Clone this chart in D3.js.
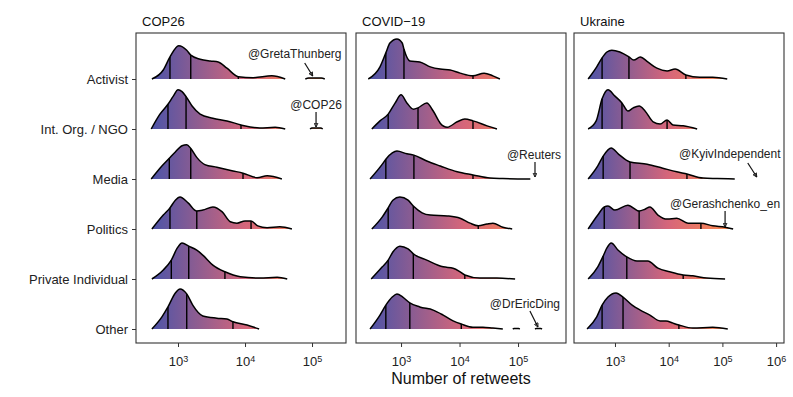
<!DOCTYPE html>
<meta charset="utf-8">
<style>
    body { margin: 0; background: #fff; }
    text { font-family: "Liberation Sans", Arial, Helvetica, sans-serif; }
    .axis .domain { display: none; }
</style>
<svg width="793" height="397"></svg>
<script src="https://cdnjs.cloudflare.com/ajax/libs/d3/7.8.5/d3.min.js"></script>
<script>
    // data: [log10(retweets), density]
    var panels = ["COP26", "COVID\u221219", "Ukraine"];
    var categories = ["Activist", "Int. Org. / NGO", "Media", "Politics", "Private Individual", "Other"];

    var cop26Ridges = [
        [[2.61,0],[2.78,0.2],[2.88,0.49],[3.01,0.74],[3.13,0.64],[3.19,0.53],[3.33,0.44],[3.48,0.4],[3.60,0.38],[3.73,0.24],[3.90,0.05],[4.12,0.03],[4.40,0.07],[4.60,0]],
        [[2.60,0],[2.73,0.33],[2.85,0.55],[2.93,0.73],[3.0,0.87],[3.06,0.83],[3.12,0.72],[3.21,0.51],[3.33,0.33],[3.52,0.24],[3.73,0.18],[3.94,0.09],[4.22,0.02],[4.45,0.04],[4.60,0]],
        [[2.60,0],[2.73,0.24],[2.87,0.46],[2.96,0.6],[3.06,0.74],[3.13,0.76],[3.19,0.68],[3.28,0.48],[3.40,0.32],[3.58,0.26],[3.82,0.18],[3.97,0.13],[4.18,0.03],[4.33,0.07],[4.55,0]],
        [[2.61,0],[2.78,0.31],[2.88,0.47],[2.96,0.64],[3.03,0.71],[3.15,0.58],[3.28,0.40],[3.37,0.42],[3.52,0.49],[3.66,0.38],[3.78,0.16],[3.88,0.13],[4.0,0.18],[4.09,0.18],[4.19,0.07],[4.33,0.03],[4.52,0.05],[4.70,0]],
        [[2.61,0],[2.78,0.2],[2.90,0.42],[2.99,0.69],[3.06,0.8],[3.16,0.73],[3.28,0.64],[3.37,0.53],[3.52,0.31],[3.70,0.16],[3.93,0.05],[4.22,0.02],[4.48,0.04],[4.63,0]],
        [[2.61,0],[2.76,0.27],[2.85,0.49],[2.96,0.8],[3.03,0.89],[3.13,0.78],[3.22,0.53],[3.37,0.29],[3.58,0.24],[3.73,0.22],[3.82,0.16],[4.03,0.09],[4.21,0]]
    ];
    var covidRidges = [
        [[2.44,0],[2.64,0.27],[2.74,0.58],[2.81,0.8],[2.93,0.89],[3.02,0.8],[3.05,0.66],[3.15,0.40],[3.32,0.38],[3.50,0.27],[3.67,0.22],[3.84,0.2],[4.01,0.13],[4.23,0.07],[4.42,0.13],[4.57,0.07],[4.69,0]],
        [[2.50,0],[2.64,0.18],[2.78,0.33],[2.90,0.58],[3.0,0.76],[3.10,0.58],[3.21,0.44],[3.29,0.47],[3.44,0.58],[3.55,0.4],[3.67,0.13],[3.79,0.04],[3.96,0.16],[4.09,0.22],[4.23,0.18],[4.47,0.07],[4.64,0]],
        [[2.47,0],[2.68,0.33],[2.74,0.44],[2.85,0.58],[2.93,0.62],[3.10,0.56],[3.22,0.53],[3.44,0.4],[3.67,0.29],[3.96,0.16],[4.23,0.09],[4.52,0.02],[4.74,0.01],[5.21,0]],
        [[2.50,0],[2.68,0.27],[2.78,0.47],[2.86,0.64],[2.98,0.71],[3.12,0.64],[3.21,0.51],[3.36,0.36],[3.50,0.31],[3.79,0.29],[4.01,0.24],[4.18,0.13],[4.32,0.07],[4.47,0.11],[4.57,0.13],[4.74,0.04],[4.90,0]],
        [[2.49,0],[2.68,0.27],[2.78,0.42],[2.86,0.6],[2.98,0.73],[3.12,0.67],[3.21,0.56],[3.44,0.42],[3.72,0.27],[3.89,0.24],[4.01,0.16],[4.09,0.09],[4.35,0.02],[4.64,0.02],[4.95,0]],
        [[2.47,0],[2.64,0.31],[2.74,0.53],[2.85,0.71],[2.93,0.78],[3.03,0.71],[3.15,0.58],[3.32,0.49],[3.55,0.42],[3.72,0.31],[3.89,0.18],[4.03,0.11],[4.23,0.04],[4.40,0.04],[4.57,0.02],[4.74,0]]
    ];
    var ukraineRidges = [
        [[2.50,0],[2.66,0.27],[2.76,0.47],[2.85,0.6],[2.94,0.64],[3.09,0.6],[3.26,0.49],[3.35,0.42],[3.47,0.49],[3.61,0.38],[3.78,0.24],[3.97,0.18],[4.12,0.22],[4.32,0.09],[4.58,0.04],[4.82,0.04],[5.09,0]],
        [[2.50,0],[2.65,0.18],[2.76,0.67],[2.87,0.87],[3.0,0.73],[3.13,0.58],[3.24,0.4],[3.34,0.47],[3.45,0.51],[3.56,0.4],[3.71,0.16],[3.84,0.11],[3.97,0.2],[4.08,0.09],[4.27,0.07],[4.53,0]],
        [[2.50,0],[2.68,0.29],[2.78,0.51],[2.93,0.69],[3.06,0.56],[3.28,0.38],[3.60,0.33],[3.89,0.24],[4.15,0.16],[4.34,0.11],[4.64,0.02],[4.90,0.01],[5.23,0]],
        [[2.50,0],[2.68,0.31],[2.80,0.49],[2.87,0.51],[3.0,0.42],[3.24,0.53],[3.45,0.4],[3.56,0.44],[3.65,0.49],[3.80,0.31],[3.97,0.22],[4.15,0.24],[4.36,0.13],[4.60,0.13],[4.82,0.07],[5.05,0.04],[5.20,0]],
        [[2.50,0],[2.68,0.27],[2.78,0.51],[2.85,0.69],[2.93,0.8],[3.06,0.64],[3.22,0.49],[3.41,0.4],[3.61,0.4],[3.80,0.24],[4.02,0.16],[4.27,0.09],[4.45,0.07],[4.71,0.02],[5.05,0]],
        [[2.48,0],[2.66,0.27],[2.76,0.53],[2.87,0.71],[3.02,0.8],[3.15,0.71],[3.32,0.53],[3.47,0.42],[3.65,0.31],[3.84,0.18],[3.95,0.18],[4.08,0.13],[4.19,0.09],[4.45,0.02],[4.82,0.04],[5.10,0]]
    ];

    // quantile lines (log10 retweets)
    var cop26Quantiles = [[2.88,3.19,3.90],[2.85,3.12,3.94],[2.87,3.19,3.97],[2.88,3.28,4.09],[2.90,3.16,3.70],[2.85,3.13,3.82]];
    var covidQuantiles = [[2.74,3.05,4.23],[2.78,3.29,4.23],[2.74,3.22,4.23],[2.78,3.21,4.32],[2.78,3.21,4.09],[2.74,3.15,4.03]];
    var ukraineQuantiles = [[2.76,3.26,4.32],[2.76,3.13,3.97],[2.78,3.28,4.34],[2.80,3.45,4.60],[2.78,3.22,4.27],[2.76,3.15,4.19]];

    // isolated bits of density far on the right
    var outliers = [
        { panel: 0, cat: "Activist", points: [[4.90,0],[4.95,0.02],[5.14,0.02],[5.19,0]] },
        { panel: 0, cat: "Int. Org. / NGO", points: [[4.97,0],[5.0,0.02],[5.13,0.02],[5.16,0]] },
        { panel: 1, cat: "Other", points: [[4.91,0],[4.93,0.01],[5.01,0.01],[5.03,0]] },
        { panel: 1, cat: "Other", points: [[5.29,0],[5.31,0.01],[5.39,0.01],[5.41,0]] }
    ];

    var annotations = [
        { panel: 0, cat: "Activist", label: "@GretaThunberg", at: 5.01 },
        { panel: 0, cat: "Int. Org. / NGO", label: "@COP26", at: 5.06 },
        { panel: 1, cat: "Media", label: "@Reuters", at: 5.29 },
        { panel: 1, cat: "Other", label: "@DrEricDing", at: 5.34 },
        { panel: 2, cat: "Media", label: "@KyivIndependent", at: 5.64 },
        { panel: 2, cat: "Politics", label: "@Gerashchenko_en", at: 5.05 }
    ];

    var xDomains = [[2.373, 5.507], [2.23, 5.82], [2.237, 6.147]];
    var xTicks = [[1e3, 1e4, 1e5], [1e3, 1e4, 1e5], [1e3, 1e4, 1e5, 1e6]];

    // layout
    var svg = d3.select("svg");
    var panelX = [[136, 346], [356, 566], [574, 784]];
    var plotTop = 33, plotBottom = 343;
    // label offsets: text dx, text dy, arrow start dx, dy, arrow end dy
    var labelPos = {
        "@GretaThunberg": [-18, -21, -8, -16, -3],
        "@COP26": [0, -20, 0, -17, -2],
        "@Reuters": [-1, -20, 0, -17, -2],
        "@DrEricDing": [-13, -21, -8, -18, -2],
        "@KyivIndependent": [-27, -21, -9, -16, -2],
        "@Gerashchenko_en": [0, -21, 0, -18, -2]
    };

    var ridgesAll = [cop26Ridges, covidRidges, ukraineRidges];
    var quantAll = [cop26Quantiles, covidQuantiles, ukraineQuantiles];

    var y = d3.scalePoint().domain(categories).range([79, 329]);
    var h = d3.scaleLinear().domain([0, 1]).range([0, 45]);

    var defs = svg.append("defs");
    defs.append("marker")
        .attr("id", "arrow")
        .attr("viewBox", "0 -4 8 8")
        .attr("refX", 7).attr("refY", 0)
        .attr("markerWidth", 5).attr("markerHeight", 5)
        .attr("markerUnits", "userSpaceOnUse")
        .attr("orient", "auto")
        .append("path")
        .attr("d", "M1,-3L7,0L1,3Z")
        .attr("fill", "none")
        .attr("stroke", "#111")
        .attr("stroke-width", 1.4);

    var gradStops = [[0, "#4c54a8"], [0.25, "#8a5c92"], [0.55, "#d6667a"], [0.85, "#f2805a"], [1, "#f98b4e"]];

    panels.forEach(function (name, p) {
        var x = d3.scaleLog()
            .domain(xDomains[p].map(function (v) { return Math.pow(10, v); }))
            .range(panelX[p]);
        var ridges = ridgesAll[p];
        var extras = outliers.filter(function (o) { return o.panel === p; });

        var allPts = d3.merge(ridges.concat(extras.map(function (o) { return o.points; })));
        var ext = d3.extent(allPts, function (d) { return d[0]; });

        var grad = defs.append("linearGradient")
            .attr("id", "grad" + p)
            .attr("gradientUnits", "userSpaceOnUse")
            .attr("x1", x(Math.pow(10, ext[0]))).attr("x2", x(Math.pow(10, ext[1])))
            .attr("y1", 0).attr("y2", 0);
        gradStops.forEach(function (s) {
            grad.append("stop").attr("offset", s[0]).attr("stop-color", s[1]);
        });

        var g = svg.append("g");

        g.append("text")
            .attr("x", panelX[p][0] + 6)
            .attr("y", 26)
            .attr("font-size", 13)
            .attr("fill", "#111")
            .text(name);

        var area = function (base) {
            return d3.area()
                .x(function (d) { return x(Math.pow(10, d[0])); })
                .y0(base)
                .y1(function (d) { return base - h(d[1]); })
                .curve(d3.curveMonotoneX);
        };
        var line = function (base) {
            return d3.line()
                .x(function (d) { return x(Math.pow(10, d[0])); })
                .y(function (d) { return base - h(d[1]); })
                .curve(d3.curveMonotoneX);
        };

        var shapes = ridges.map(function (pts, i) { return { cat: categories[i], points: pts, q: quantAll[p][i] }; })
            .concat(extras.map(function (o) { return { cat: o.cat, points: o.points, q: [] }; }));

        shapes.forEach(function (s) {
            var base = y(s.cat);
            g.append("path")
                .attr("d", area(base)(s.points))
                .attr("fill", "url(#grad" + p + ")");
            var interp = d3.scaleLinear()
                .domain(s.points.map(function (d) { return d[0]; }))
                .range(s.points.map(function (d) { return d[1]; }));
            g.selectAll(null)
                .data(s.q)
                .enter().append("line")
                .attr("x1", function (d) { return x(Math.pow(10, d)); })
                .attr("x2", function (d) { return x(Math.pow(10, d)); })
                .attr("y1", base)
                .attr("y2", function (d) { return base - h(interp(d)); })
                .attr("stroke", "#000")
                .attr("stroke-width", 1.4);
            g.append("path")
                .attr("d", line(base)(s.points))
                .attr("fill", "none")
                .attr("stroke", "#000")
                .attr("stroke-width", 1.5);
        });

        // annotations
        annotations.filter(function (a) { return a.panel === p; }).forEach(function (a) {
            var o = labelPos[a.label];
            var tx = x(Math.pow(10, a.at)), ty = y(a.cat);
            g.append("text")
                .attr("x", tx + o[0])
                .attr("y", ty + o[1])
                .attr("text-anchor", "middle")
                .attr("font-size", 12)
                .attr("fill", "#222")
                .text(a.label);
            g.append("line")
                .attr("x1", tx + o[2]).attr("y1", ty + o[3])
                .attr("x2", tx).attr("y2", ty + o[4])
                .attr("stroke", "#111")
                .attr("stroke-width", 1.2)
                .attr("marker-end", "url(#arrow)");
        });

        // frame
        g.append("rect")
            .attr("x", panelX[p][0]).attr("y", plotTop)
            .attr("width", panelX[p][1] - panelX[p][0])
            .attr("height", plotBottom - plotTop)
            .attr("fill", "none")
            .attr("stroke", "#333")
            .attr("stroke-width", 1.1);

        var xAxis = g.append("g")
            .attr("class", "axis")
            .attr("transform", "translate(0," + plotBottom + ")")
            .call(d3.axisBottom(x).tickValues(xTicks[p]).tickSize(4).tickPadding(10).tickFormat(function () { return ""; }));
        xAxis.selectAll(".tick line").attr("stroke", "#333");
        xAxis.selectAll(".tick text")
            .attr("font-size", 13)
            .attr("fill", "#222")
            .each(function (d) {
                var t = d3.select(this);
                t.append("tspan").text("10");
                t.append("tspan").attr("dy", "-0.45em").attr("font-size", 9).text(Math.round(Math.log10(d)));
            });

        if (p === 0) {
            var yAxis = g.append("g")
                .attr("class", "axis")
                .attr("transform", "translate(" + panelX[0][0] + ",0)")
                .call(d3.axisLeft(y).tickSize(4).tickPadding(4));
            yAxis.selectAll(".tick line").attr("stroke", "#333");
            yAxis.selectAll(".tick text").attr("font-size", 13).attr("fill", "#222");
        }
    });

    svg.append("text")
        .attr("x", 461)
        .attr("y", 384)
        .attr("text-anchor", "middle")
        .attr("font-size", 16)
        .attr("fill", "#111")
        .text("Number of retweets");
</script>
